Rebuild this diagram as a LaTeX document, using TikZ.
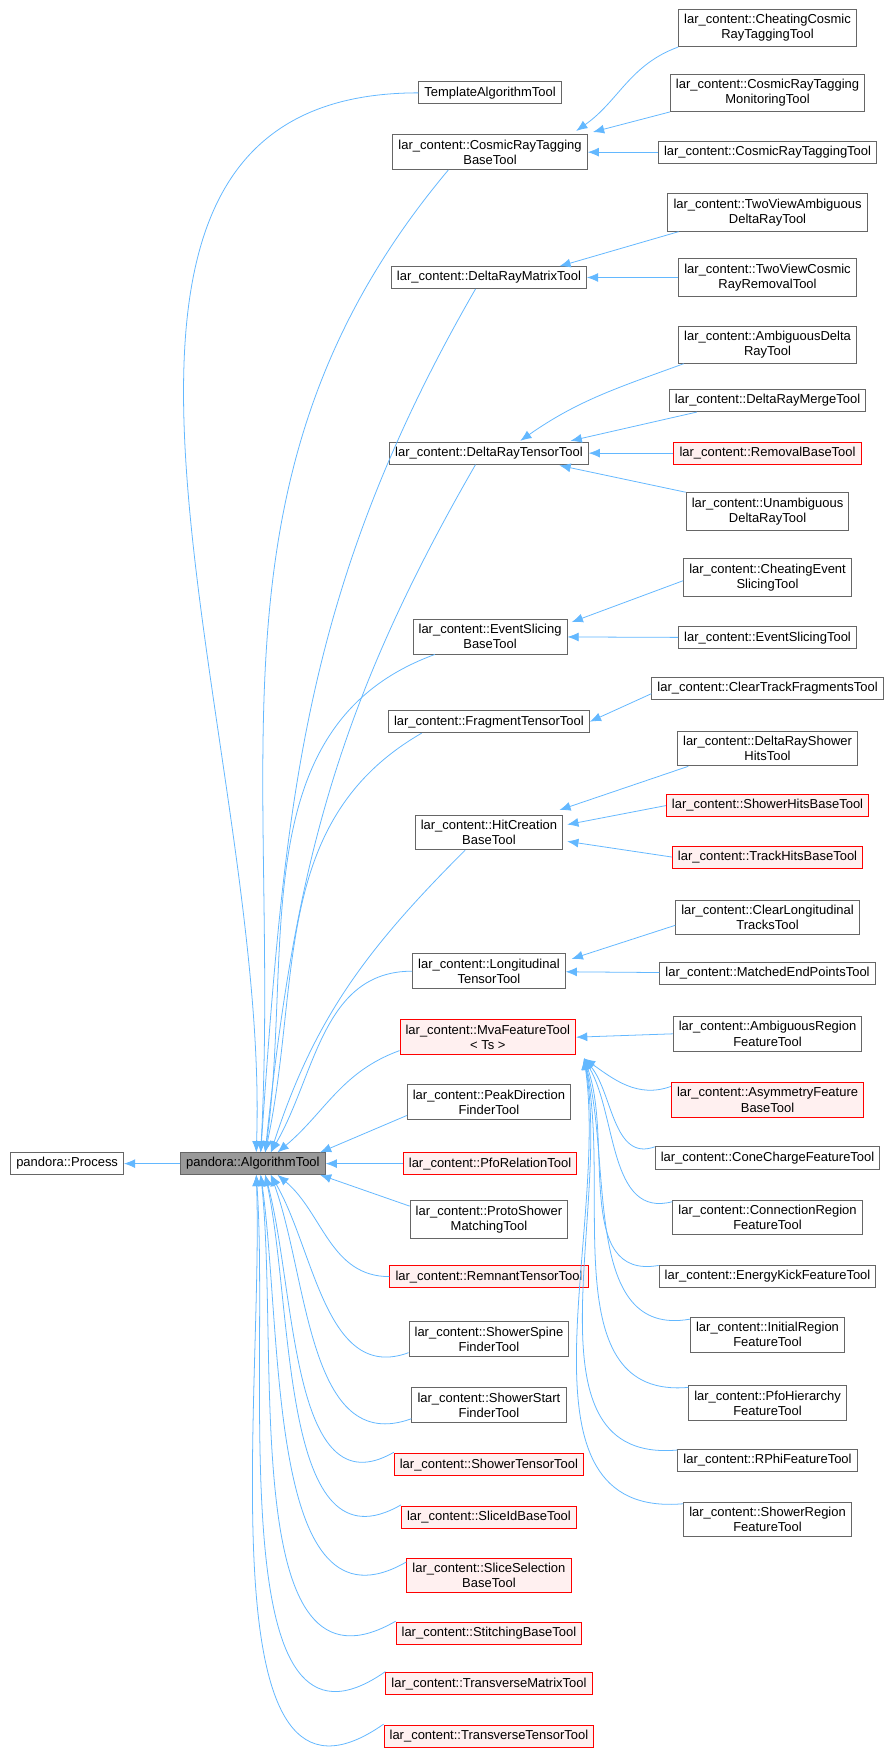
\documentclass[tikz,border=0pt]{standalone}
\usepackage{fontspec}
\setmainfont{Liberation Sans}
\usetikzlibrary{arrows.meta}
\definecolor{edgec}{HTML}{63B8FF}
\definecolor{boxc}{HTML}{666666}
\tikzset{
  cls/.style={draw=boxc, fill=white, line width=0.8pt, font=\fontsize{11.6}{13.5}\selectfont, align=center, inner xsep=5pt, inner ysep=4.5pt},
  red/.style={cls, draw=red, fill=red!6},
  cur/.style={cls, fill=black!40},
  edge/.style={draw=edgec, line width=0.7pt, -{Latex[length=10pt,width=8pt]}},
}
\begin{document}
\begin{tikzpicture}[x=1pt,y=-1pt]
\useasboundingbox[fill=white] (0,0) rectangle (797,1565);
% left
\node[cls] (proc) at (60,1040) {pandora::Process};
\node[cur] (alg) at (226,1040) {pandora::AlgorithmTool};
% middle column
\node[cls] (tmpl) at (438,83) {TemplateAlgorithmTool};
\node[cls] (crb) at (438,136) {lar\_content::CosmicRayTagging\\BaseTool};
\node[cls] (drm) at (437,248) {lar\_content::DeltaRayMatrixTool};
\node[cls] (drt) at (437,405) {lar\_content::DeltaRayTensorTool};
\node[cls] (esb) at (438,569) {lar\_content::EventSlicing\\BaseTool};
\node[cls] (frt) at (437,645) {lar\_content::FragmentTensorTool};
\node[cls] (hcb) at (437,744) {lar\_content::HitCreation\\BaseTool};
\node[cls] (lgt) at (437,868) {lar\_content::Longitudinal\\TensorTool};
\node[red] (mva) at (436,927) {lar\_content::MvaFeatureTool\\< Ts >};
\node[cls] (pdf) at (437,985) {lar\_content::PeakDirection\\FinderTool};
\node[red] (pfr) at (438,1040) {lar\_content::PfoRelationTool};
\node[cls] (psm) at (437,1090) {lar\_content::ProtoShower\\MatchingTool};
\node[red] (rmt) at (437,1141) {lar\_content::RemnantTensorTool};
\node[cls] (ssp) at (437,1197) {lar\_content::ShowerSpine\\FinderTool};
\node[cls] (sst) at (437,1256) {lar\_content::ShowerStart\\FinderTool};
\node[red] (sht) at (437,1309) {lar\_content::ShowerTensorTool};
\node[red] (sid) at (437,1356) {lar\_content::SliceIdBaseTool};
\node[red] (ssl) at (437,1408) {lar\_content::SliceSelection\\BaseTool};
\node[red] (stb) at (437,1460) {lar\_content::StitchingBaseTool};
\node[red] (tmt) at (437,1505) {lar\_content::TransverseMatrixTool};
\node[red] (ttt) at (437,1552) {lar\_content::TransverseTensorTool};
% right column
\node[cls] (ccr) at (686,25) {lar\_content::CheatingCosmic\\RayTaggingTool};
\node[cls] (crm) at (686,83) {lar\_content::CosmicRayTagging\\MonitoringTool};
\node[cls] (crt) at (686,136) {lar\_content::CosmicRayTaggingTool};
\node[cls] (tva) at (686,190) {lar\_content::TwoViewAmbiguous\\DeltaRayTool};
\node[cls] (tvc) at (686,248) {lar\_content::TwoViewCosmic\\RayRemovalTool};
\node[cls] (amd) at (686,308) {lar\_content::AmbiguousDelta\\RayTool};
\node[cls] (drg) at (686,358) {lar\_content::DeltaRayMergeTool};
\node[red] (rbt) at (686,405) {lar\_content::RemovalBaseTool};
\node[cls] (una) at (686,457) {lar\_content::Unambiguous\\DeltaRayTool};
\node[cls] (ces) at (686,516) {lar\_content::CheatingEvent\\SlicingTool};
\node[cls] (est) at (686,570) {lar\_content::EventSlicingTool};
\node[cls] (ctf) at (686,615) {lar\_content::ClearTrackFragmentsTool};
\node[cls] (drh) at (686,669) {lar\_content::DeltaRayShower\\HitsTool};
\node[red] (shb) at (686,720) {lar\_content::ShowerHitsBaseTool};
\node[red] (thb) at (686,766) {lar\_content::TrackHitsBaseTool};
\node[cls] (clt) at (686,820) {lar\_content::ClearLongitudinal\\TracksTool};
\node[cls] (mep) at (686,870) {lar\_content::MatchedEndPointsTool};
\node[cls] (arf) at (686,924) {lar\_content::AmbiguousRegion\\FeatureTool};
\node[red] (asf) at (686,983) {lar\_content::AsymmetryFeature\\BaseTool};
\node[cls] (ccf) at (686,1035) {lar\_content::ConeChargeFeatureTool};
\node[cls] (crf) at (686,1088) {lar\_content::ConnectionRegion\\FeatureTool};
\node[cls] (ekf) at (686,1141) {lar\_content::EnergyKickFeatureTool};
\node[cls] (irf) at (686,1193) {lar\_content::InitialRegion\\FeatureTool};
\node[cls] (phf) at (686,1254) {lar\_content::PfoHierarchy\\FeatureTool};
\node[cls] (rpf) at (686,1305) {lar\_content::RPhiFeatureTool};
\node[cls] (srf) at (686,1358) {lar\_content::ShowerRegion\\FeatureTool};
% edges to AlgorithmTool
\draw[edge] (alg) -- (proc);
\coordinate (a1) at (229,1030);
\coordinate (a2) at (233,1030);
\coordinate (a3) at (237,1030);
\coordinate (a4) at (242,1030);
\coordinate (a5) at (248,1030);
\coordinate (b1) at (229,1050);
\coordinate (b2) at (233,1050);
\coordinate (b3) at (237,1050);
\coordinate (b4) at (242,1050);
\coordinate (b5) at (248,1050);
\draw[edge] (tmpl.west) to[out=180,in=88] (a1);
\draw[edge] (crb.south west)++(50,0) to[out=230,in=87] (a2);
\draw[edge] (drm.south)++(-12,0) to[out=240,in=86] (a2);
\draw[edge] (drt.south)++(-12,0) to[out=240,in=84] (a3);
\draw[edge] (esb.south west)++(20,0) to[out=200,in=82] (a3);
\draw[edge] (frt.south west)++(30,0) to[out=210,in=78] (a3);
\draw[edge] (hcb.south west)++(45,0) to[out=225,in=72] (a4);
\draw[edge] (lgt.west) to[out=180,in=60] (a4);
\draw[edge] (mva.west)++(0,12) to[out=200,in=40] (a5);
\draw[edge] (pdf.west)++(0,12) -- (286,1030);
\draw[edge] (pfr) -- (alg);
\draw[edge] (psm.west)++(0,-12) -- (286,1050);
\draw[edge] (rmt.west) to[out=180,in=-40] (b5);
\draw[edge] (ssp.west)++(0,12) to[out=200,in=-60] (b4);
\draw[edge] (sst.west)++(0,12) to[out=200,in=-70] (b4);
\draw[edge] (sht.west)++(0,-11) to[out=210,in=-75] (b3);
\draw[edge] (sid.west)++(0,-11) to[out=210,in=-78] (b3);
\draw[edge] (ssl.west)++(0,-12) to[out=210,in=-82] (b2);
\draw[edge] (stb.west)++(0,-11) to[out=210,in=-84] (b2);
\draw[edge] (tmt.west)++(0,-11) to[out=215,in=-86] (b1);
\draw[edge] (ttt.west)++(0,-11) to[out=215,in=-88] (b1);
% right edges
\draw[edge] (ccr.south west) to[out=200,in=35] (515,117);
\draw[edge] (crm.south west) -- (530,118);
\draw[edge] (crt) -- (crb);
\draw[edge] (tva.south west)++(10,0) -- (500,238);
\draw[edge] (tvc) -- (drm);
\draw[edge] (amd.south west)++(5,0) to[out=200,in=35] (465,394);
\draw[edge] (drg.south west)++(25,0) -- (510,394);
\draw[edge] (rbt) -- (drt);
\draw[edge] (una.north west) -- (500,416);
\draw[edge] (ces.west)++(0,3) -- (511,556);
\draw[edge] (est) -- (esb);
\draw[edge] (ctf.west)++(0,5) -- (frt.east);
\draw[edge] (drh.south west)++(10,0) -- (500,724);
\draw[edge] (shb.west) -- (507,737);
\draw[edge] (thb.west) -- (507,752);
\draw[edge] (clt.west)++(0,7) -- (511,857);
\draw[edge] (mep) -- (lgt);
\draw[edge] (arf.west) -- (mva.east);
\coordinate (m1) at (522,946);
\draw[edge] (asf.west)++(0,-12) to[out=200,in=-35] (m1);
\draw[edge] (ccf.west)++(0,-10) to[out=200,in=-50] (m1);
\draw[edge] (crf.west)++(0,-14) to[out=195,in=-60] (m1);
\draw[edge] (ekf.west)++(0,-10) to[out=190,in=-70] (m1);
\draw[edge] (irf.west)++(0,-14) to[out=190,in=-75] (m1);
\draw[edge] (phf.west)++(0,-14) to[out=185,in=-78] (m1);
\draw[edge] (rpf.west)++(0,-9) to[out=185,in=-80] (m1);
\draw[edge] (srf.west)++(0,-14) to[out=185,in=-82] (m1);
\end{tikzpicture}
\end{document}
